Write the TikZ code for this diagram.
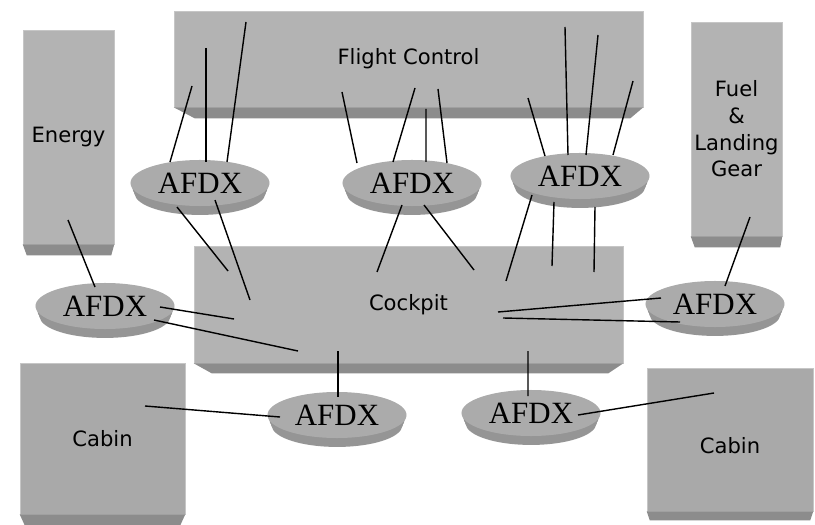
\documentclass[tikz,border=0pt]{standalone}
\usepackage{fontspec}
\usetikzlibrary{calc, shapes.geometric, shadows}
\newfontfamily\unitfont{DejaVu Sans}
\newfontfamily\afdxfont{Liberation Serif}
\definecolor{unitgray}{HTML}{B3B3B3}
\definecolor{cabingray}{HTML}{A9A9A9}
\definecolor{bevelgray}{HTML}{8C8C8C}
\definecolor{edgegray}{HTML}{C6C6C6}
\definecolor{swgray}{HTML}{ABABAB}
\definecolor{rimgray}{HTML}{959595}
\tikzset{
  unittext/.style={font=\unitfont\fontsize{15}{19}\selectfont},
  unit/.style={unittext, draw=edgegray, line width=0.4pt, fill=unitgray,
               inner sep=0pt, align=center},
  cabin/.style={unit, fill=cabingray},
  bevel/.style={fill=bevelgray},
  afdx/.style={ellipse, fill=swgray, inner sep=0pt,
               minimum width=3.475cm, minimum height=1.15cm,
               font=\afdxfont\fontsize{22}{22}\selectfont,
               general shadow={fill=rimgray, shadow yshift=-2.6pt, shadow scale=0.98},
               general shadow={fill=rimgray, shadow yshift=-5.2pt, shadow scale=0.96},
               general shadow={fill=rimgray, shadow yshift=-7.8pt, shadow scale=0.94}},
  link/.style={line width=1pt, draw=black},
}

\begin{document}
\begin{tikzpicture}[x=0.025cm, y=-0.025cm]
\useasboundingbox (0,0) rectangle (815,525);

% ---- system blocks ----
\node[unit, minimum width=11.725cm, minimum height=2.4cm] (fctl) at (408.5,59) {Flight Control};
\node[unit, minimum width=2.275cm, minimum height=5.35cm] (enrg) at (68.5,137) {Energy};
\node[unit, minimum width=2.275cm, minimum height=5.35cm] (fuel) at (736.5,129)
   {Fuel\\\&\\Landing\\Gear};
\node[unit, minimum width=10.725cm, minimum height=2.925cm] (ckpt) at (408.5,304.5) {Cockpit};
\node[cabin, minimum width=4.125cm, minimum height=3.775cm] (cabl) at (102.5,438.5) {Cabin};
\node[cabin, minimum width=4.15cm, minimum height=3.575cm,
      label={[unittext, yshift=-4.3pt]center:Cabin}] (cabr) at (730,439.5) {};

% bevelled lower edges
\fill[bevel] (fctl.south west) -- (fctl.south east) -- ++(-13,11) -- ($(fctl.south west)+(21,11)$) -- cycle;
\fill[bevel] (enrg.south west) -- (enrg.south east) -- ++(-3,11) -- ($(enrg.south west)+(4,11)$) -- cycle;
\fill[bevel] (fuel.south west) -- (fuel.south east) -- ++(-2,11) -- ($(fuel.south west)+(4,11)$) -- cycle;
\fill[bevel] (ckpt.south west) -- (ckpt.south east) -- ++(-15,10) -- ($(ckpt.south west)+(18,10)$) -- cycle;
\fill[bevel] (cabl.south west) -- (cabl.south east) -- ++(-5,11) -- ($(cabl.south west)+(5,11)$) -- cycle;
\fill[bevel] (cabr.south west) -- (cabr.south east) -- ++(-3,9) -- ($(cabr.south west)+(3,9)$) -- cycle;

% ---- AFDX switches ----
\node[afdx] (sw1) at (200,183) {AFDX};
\node[afdx] (sw2) at (412,183) {AFDX};
\node[afdx] (sw3) at (580,176) {AFDX};
\node[afdx] (sw4) at (105,306) {AFDX};
\node[afdx] (sw5) at (715,304) {AFDX};
\node[afdx] (sw6) at (337,415) {AFDX};
\node[afdx] (sw7) at (531,413) {AFDX};

% flight control down to the upper switches
\draw[link] ($(fctl)+(-216.5,27)$) -- ($(sw1)+(-30,-21)$);
\draw[link] ($(fctl)+(-202.5,-11)$) -- ($(sw1)+(6,-21)$);
\draw[link] ($(fctl)+(-162.5,-37)$) -- ($(sw1)+(27,-21)$);
\draw[link] ($(fctl)+(-66.5,33)$) -- ($(sw2)+(-55,-20)$);
\draw[link] ($(fctl)+(6.5,29)$) -- ($(sw2)+(-19,-21)$);
\draw[link] ($(fctl)+(17.5,50)$) -- ($(sw2)+(14,-21)$);
\draw[link] ($(fctl)+(29.5,30)$) -- ($(sw2)+(35,-20)$);
\draw[link] ($(fctl)+(119.5,39)$) -- ($(sw3)+(-35,-20)$);
\draw[link] ($(fctl)+(156.5,-32)$) -- ($(sw3)+(-12,-21)$);
\draw[link] ($(fctl)+(189.5,-24)$) -- ($(sw3)+(6,-21)$);
\draw[link] ($(fctl)+(224.5,22)$) -- ($(sw3)+(33,-21)$);

% upper switches into the cockpit
\draw[link] ($(sw1)+(-23,24)$) -- ($(ckpt)+(-180.5,-33.5)$);
\draw[link] ($(sw1)+(15,17)$) -- ($(ckpt)+(-158.5,-4.5)$);
\draw[link] ($(sw2)+(-10,22)$) -- ($(ckpt)+(-31.5,-32.5)$);
\draw[link] ($(sw2)+(12,22)$) -- ($(ckpt)+(65.5,-34.5)$);
\draw[link] ($(sw3)+(-48,19)$) -- ($(ckpt)+(97.5,-23.5)$);
\draw[link] ($(sw3)+(-26,26)$) -- ($(ckpt)+(143.5,-38.5)$);
\draw[link] ($(sw3)+(15,31)$) -- ($(ckpt)+(185.5,-32.5)$);

% side switches
\draw[link] ($(enrg)+(-0.5,83)$) -- ($(sw4)+(-10,-19)$);
\draw[link] ($(sw4)+(55,1)$) -- ($(ckpt)+(-174.5,14.5)$);
\draw[link] ($(sw4)+(49,14)$) -- ($(ckpt)+(-110.5,46.5)$);
\draw[link] ($(fuel)+(13.5,88)$) -- ($(sw5)+(10,-18)$);
\draw[link] ($(sw5)+(-54,-6)$) -- ($(ckpt)+(89.5,7.5)$);
\draw[link] ($(sw5)+(-35,18)$) -- ($(ckpt)+(94.5,13.5)$);

% cockpit down to the cabin switches
\draw[link] ($(ckpt)+(-70.5,46.5)$) -- ($(sw6)+(1,-18)$);
\draw[link] ($(ckpt)+(119.5,46.5)$) -- ($(sw7)+(-3,-17)$);
\draw[link] ($(cabl)+(42.5,-32.5)$) -- ($(sw6)+(-57,2)$);
\draw[link] ($(sw7)+(47,2)$) -- ($(cabr)+(-16,-46.5)$);

\end{tikzpicture}
\end{document}
